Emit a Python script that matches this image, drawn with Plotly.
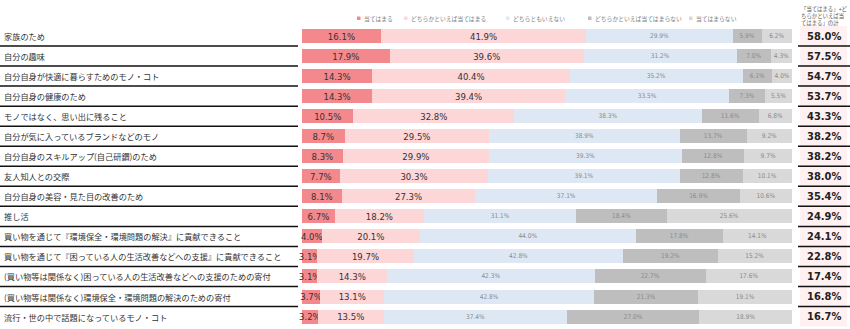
import plotly.graph_objects as go

categories = [
    "家族のため",
    "自分の趣味",
    "自分自身が快適に暮らすためのモノ・コト",
    "自分自身の健康のため",
    "モノではなく、思い出に残ること",
    "自分が気に入っているブランドなどのモノ",
    "自分自身のスキルアップ(自己研鑽)のため",
    "友人知人との交際",
    "自分自身の美容・見た目の改善のため",
    "推し活",
    "買い物を通じて『環境保全・環境問題の解決』に貢献できること",
    "買い物を通じて『困っている人の生活改善などへの支援』に貢献できること",
    "(買い物等は関係なく)困っている人の生活改善などへの支援のための寄付",
    "(買い物等は関係なく)環境保全・環境問題の解決のための寄付",
    "流行・世の中で話題になっているモノ・コト",
]
series_names = ["当てはまる", "どちらかといえば当てはまる", "どちらともいえない",
                "どちらかといえば当てはまらない", "当てはまらない"]
applies = [16.1, 17.9, 14.3, 14.3, 10.5, 8.7, 8.3, 7.7, 8.1, 6.7, 4.0, 3.1, 3.1, 3.7, 3.2]
somewhat_applies = [41.9, 39.6, 40.4, 39.4, 32.8, 29.5, 29.9, 30.3, 27.3, 18.2, 20.1, 19.7, 14.3, 13.1, 13.5]
neither = [29.9, 31.2, 35.2, 33.5, 38.3, 38.9, 39.3, 39.1, 37.1, 31.1, 44.0, 42.8, 42.3, 42.8, 37.4]
somewhat_not = [5.9, 7.0, 6.1, 7.3, 11.6, 13.7, 12.8, 12.8, 16.9, 18.4, 17.8, 19.2, 22.7, 21.3, 27.0]
not_apply = [6.2, 4.3, 4.0, 5.5, 6.8, 9.2, 9.7, 10.1, 10.6, 25.6, 14.1, 15.2, 17.6, 19.1, 18.9]
totals = [58.0, 57.5, 54.7, 53.7, 43.3, 38.2, 38.2, 38.0, 35.4, 24.9, 24.1, 22.8, 17.4, 16.8, 16.7]
total_header = "「当てはまる」+ど<br>ちらかといえば当<br>てはまる」の計"

colors = ["#F4898D", "#FDD6D8", "#DDE8F4", "#BEBEBE", "#D9D9D9"]
series = [applies, somewhat_applies, neither, somewhat_not, not_apply]

W, H = 850, 329
x0_px, x1_px = 302, 792
xmax = 101.0
x_end_px = x0_px + (x1_px - x0_px) * xmax / 100
row0, step = 36.0, 20.04
y_top = -row0 / step
y_bot = (H - row0) / step

ypos = list(range(len(categories)))
FONT = "Noto Sans CJK JP"
NUM = "DejaVu Sans Condensed, Liberation Sans Narrow, Noto Sans CJK JP"

fig = go.Figure()
for k, (name, vals) in enumerate(zip(series_names, series)):
    dark = k < 2
    fig.add_trace(go.Bar(
        x=vals, y=ypos, orientation="h", name=name,
        marker=dict(color=colors[k], line=dict(width=0)),
        width=0.7,
        text=[f"{v:.1f}%" for v in vals],
        textposition="inside", insidetextanchor="middle",
        constraintext="none", textangle=0, cliponaxis=False,
        textfont=dict(family=NUM, size=9.5 if dark else 6.5,
                      color="#333333" if dark else "#8a8a8a"),
        hoverinfo="skip", showlegend=False,
    ))

shapes = []
annotations = []
for i, c in enumerate(categories):
    annotations.append(dict(
        x=2 / W, y=i, xref="paper", yref="y", text=c, showarrow=False,
        xanchor="left", yanchor="middle",
        font=dict(family=FONT, size=8.2, color="#333333")))
    shapes.append(dict(type="rect", xref="paper", yref="y",
                       x0=800 / W, x1=847 / W, y0=i - 0.5, y1=i + 0.5,
                       fillcolor="#FFF1F1", line=dict(width=0), layer="below"))
    annotations.append(dict(
        x=823.5 / W, y=i, xref="paper", yref="y", text=f"<b>{totals[i]:.1f}%</b>",
        showarrow=False, xanchor="center", yanchor="middle",
        font=dict(family=NUM, size=11, color="#222222")))
    if i < len(categories) - 1:
        shapes.append(dict(type="line", xref="paper", yref="y",
                           x0=0, x1=298 / W, y0=i + 0.5, y1=i + 0.5,
                           line=dict(color="#111111", width=1.5)))
        shapes.append(dict(type="line", xref="paper", yref="y",
                           x0=798 / W, x1=1, y0=i + 0.5, y1=i + 0.5,
                           line=dict(color="#111111", width=1.5)))

annotations.append(dict(
    x=799 / W, y=1 - 3 / H, xref="paper", yref="paper", text=total_header,
    showarrow=False, xanchor="left", yanchor="top", align="left",
    font=dict(family=FONT, size=5.4, color="#555555")))

legend_x = [357, 404, 506, 588, 689]
for k, name in enumerate(series_names):
    xp = legend_x[k]
    shapes.append(dict(type="rect", xref="paper", yref="paper",
                       x0=xp / W, x1=(xp + 3.5) / W,
                       y0=1 - 20 / H, y1=1 - 16.5 / H,
                       fillcolor=colors[k], line=dict(width=0)))
    annotations.append(dict(
        x=(xp + 4.5) / W, y=1 - 18.3 / H, xref="paper", yref="paper", text=name,
        showarrow=False, xanchor="left", yanchor="middle",
        font=dict(family=FONT, size=5.8, color="#808080")))

fig.update_layout(
    width=W, height=H, barmode="stack",
    margin=dict(l=0, r=0, t=0, b=0),
    paper_bgcolor="white", plot_bgcolor="white",
    xaxis=dict(domain=[x0_px / W, x_end_px / W], range=[0, xmax], visible=False,
               fixedrange=True),
    yaxis=dict(range=[y_bot, y_top], visible=False, fixedrange=True),
    shapes=shapes, annotations=annotations,
    bargap=0.3,
)
fig.write_html("out.html")
